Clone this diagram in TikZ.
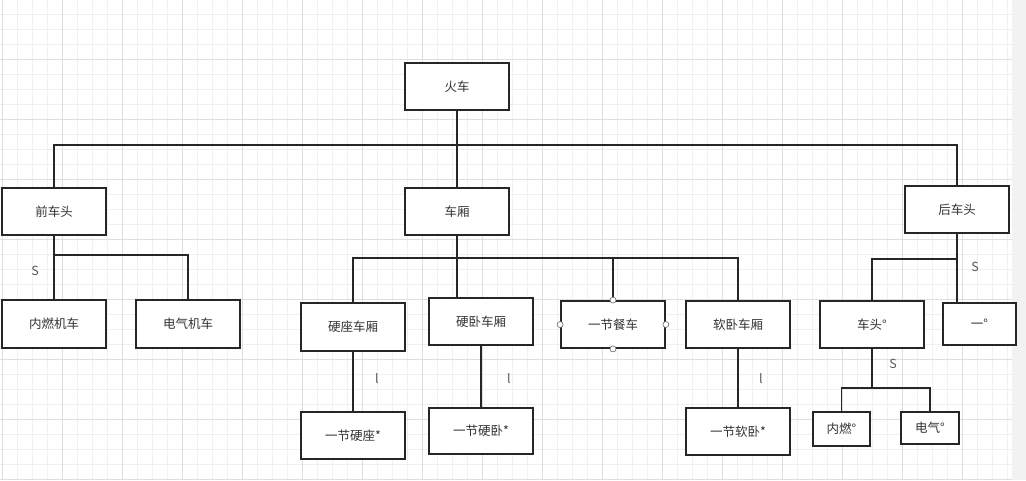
\documentclass[tikz,border=0pt]{standalone}
\usepackage{fontspec}
\setmainfont{Noto Sans CJK SC}
\usetikzlibrary{positioning}

\begin{document}
\begin{tikzpicture}[
			x=1pt,y=-1pt,
			every node/.style={
				font=\fontsize{12.5}{14}\selectfont,
				text=black!80
			},
			box/.style={
				draw=black!85,
				line width=1.8pt,
				fill=white,
				rectangle,
				inner sep=0pt,
				minimum width=104pt,
				minimum height=47pt
			},
			link/.style={draw=black!85,line width=1.8pt},
			tag/.style={text=black!65},
			port/.style={circle,draw=black!60,fill=white,line width=0.6pt,minimum size=6pt,inner sep=0pt},
			minorgrid/.style={draw=black!6,line width=0.6pt},
			majorgrid/.style={draw=black!13,line width=0.6pt}
			]
			
			\useasboundingbox (0,0) rectangle (1026,480);
			
			% background grid
			\foreach \x in {2,17,...,1010} \draw[minorgrid] (\x,0) -- (\x,480);
			\foreach \y in {14,29,...,480} \draw[minorgrid] (0,\y) -- (1012,\y);
			\foreach \x in {2,62,...,1010} \draw[majorgrid] (\x,0) -- (\x,480);
			\foreach \y in {59,119,...,480} \draw[majorgrid] (0,\y) -- (1012,\y);
			\fill[black!5] (1012,0) rectangle (1026,480);
			
			\node[box] (train) at (457,86.5) {火车};
			
			\node[box] (front) at (54,211.5) {前车头};
			\node[box] (carriage) at (457,211.5) {车厢};
			\node[box] (rear) at (957,209.5) {后车头};
			
			\node[box,minimum height=48pt] (diesel) at (54,324) {内燃机车};
			\node[box,minimum height=48pt] (electric) at (188,324) {电气机车};
			
			\node[box,minimum height=48pt] (hardseat) at (353,327) {硬座车厢};
			\node[box] (hardsleeper) at (481,321.5) {硬卧车厢};
			\node[box] (diningcar) at (613,324.5) {一节餐车};
			\node[box] (softsleeper) at (738,324.5) {软卧车厢};
			
			\node[box] (oneseat) at (353,435.5) {一节硬座*};
			\node[box,minimum height=46pt] (onesleeper) at (481,431) {一节硬卧*};
			\node[box] (onesoft) at (738,431.5) {一节软卧*};
			
			\node[box] (head) at (872,324.5) {车头°};
			\node[box,minimum width=73pt,minimum height=42pt] (dash) at (979.5,324) {一°};
			\node[box,minimum width=57pt,minimum height=34pt] (smalldiesel) at (841.5,429) {内燃°};
			\node[box,minimum width=58pt,minimum height=32pt] (smallelec) at (930,428) {电气°};
			
			\foreach \a in {north,south,east,west}
				\node[port] (port-\a) at (diningcar.\a) {};
			
			\coordinate (topbus) at (457,145);
			\coordinate (frontbus) at (54,255);
			\coordinate (carbus) at (457,258);
			\coordinate (rearbus) at (957,259);
			\coordinate (headbus) at (872,388);
			
			\draw[link] (train) -- (topbus);
			\draw[link] (front.north) |- (topbus) -| (rear.north);
			\draw[link] (topbus) -- (carriage);
			
			\draw[link] (front) -- (diesel);
			\draw[link] (frontbus) -| (electric.north);
			
			\draw[link] (carriage) -- (carbus);
			\draw[link] (hardseat.north) |- (carbus) -| (softsleeper.north);
			\draw[link] (carbus) -- (carbus |- hardsleeper.north);
			\draw[link] (carbus -| diningcar.north) -- (port-north);
			\draw[link] (hardseat) -- (oneseat);
			\draw[link] (hardsleeper) -- (onesleeper);
			\draw[link] (softsleeper) -- (onesoft);
			
			\draw[link] (rear.south) -- (rear.south |- dash.north);
			\draw[link] (rearbus) -| (head.north);
			\draw[link] (head) -- (headbus);
			\draw[link] (smalldiesel.north) |- (headbus) -| (smallelec.north);
			
			\node[tag] (s-front) at (35,271) {S};
			\node[tag] (s-rear) at (975,267) {S};
			\node[tag] (s-head) at (893,364) {S};
			\node[tag] (l-seat) at (377,379) {l};
			\node[tag] (l-sleeper) at (509,379) {l};
			\node[tag] (l-soft) at (761,379) {l};
			
		\end{tikzpicture}
\end{document}
